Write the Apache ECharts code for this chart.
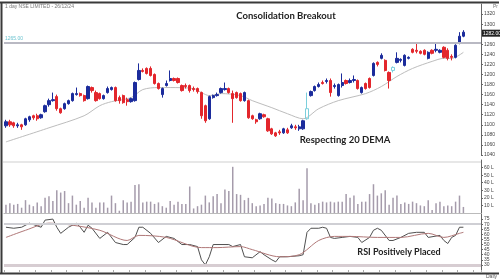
<!DOCTYPE html>
<html><head><meta charset="utf-8">
<script src="https://cdn.jsdelivr.net/npm/echarts@6/dist/echarts.min.js"></script>
<style>html,body{margin:0;padding:0;background:#fff}#c{width:500px;height:280px}</style>
</head><body><div id="c"></div>
<script>
// ---- data ----
const categories = [];
for (let i = 1; i <= 122; i++) categories.push(String(i));

const openP = [1098,1106,1104,1098,1100,1100,1110,1118,1118,1114,
1126,1140,1148,1156,1132,1132,1142,1148,1160,1162,
1158,1152,1174,1164,1162,1152,1164,1170,1174,1154,
1158,1150,1146,1148,1190,1208,1212,1212,1200,1182,
1160,1178,1188,1192,1192,1178,1178,1178,1172,1172,
1164,1138,1112,1154,1158,1164,1170,1172,1162,1164,
1162,1148,1148,1118,1110,1112,1120,1112,1092,1084,
1086,1084,1090,1094,1096,1092,1092,1112,1158,1168,
1176,1184,1186,1188,1176,1158,1178,1188,1184,1188,
1188,1164,1182,1192,1198,1224,1232,1228,1204,1208,
1224,1228,1218,1232,1250,1248,1246,1248,1232,1248,
1248,1244,1254,1248,1236,1234,1262,1276];
const closeP = [1106,1100,1098,1100,1096,1112,1116,1114,1112,1120,
1138,1148,1150,1132,1124,1142,1148,1162,1162,1158,
1148,1176,1168,1148,1152,1158,1172,1174,1148,1148,
1144,1146,1152,1184,1208,1206,1202,1198,1182,1172,
1172,1182,1192,1188,1184,1168,1176,1168,1170,1166,
1118,1108,1156,1158,1160,1172,1172,1164,1152,1154,
1148,1164,1114,1112,1106,1122,1116,1088,1082,1078,
1084,1092,1084,1098,1094,1096,1108,1132,1166,1176,
1180,1182,1188,1164,1178,1180,1184,1182,1188,1190,
1172,1174,1172,1174,1222,1220,1238,1208,1188,1214,
1232,1230,1238,1234,1244,1246,1242,1240,1244,1242,
1250,1248,1234,1232,1234,1258,1276,1284];
const highP = [1110,1110,1106,1104,1102,1114,1118,1120,1122,1122,
1140,1152,1164,1160,1134,1144,1150,1164,1174,1164,
1160,1178,1176,1168,1164,1160,1176,1176,1176,1158,
1160,1154,1154,1186,1222,1212,1214,1216,1202,1184,
1174,1188,1208,1194,1194,1180,1182,1180,1176,1174,
1166,1140,1158,1160,1164,1174,1184,1174,1168,1166,
1164,1166,1150,1120,1112,1124,1122,1114,1094,1086,
1090,1094,1094,1102,1100,1100,1110,1164,1168,1178,
1184,1188,1192,1192,1182,1182,1202,1190,1192,1198,
1190,1176,1184,1194,1224,1226,1242,1230,1206,1216,
1244,1232,1240,1236,1252,1262,1248,1250,1246,1250,
1262,1250,1256,1252,1240,1260,1284,1288];
const lowP = [1094,1096,1094,1094,1090,1098,1106,1110,1108,1112,
1124,1136,1146,1128,1122,1130,1140,1146,1158,1156,
1146,1150,1164,1146,1150,1150,1162,1168,1146,1142,
1142,1138,1144,1146,1188,1204,1200,1196,1180,1170,
1154,1176,1186,1186,1182,1166,1172,1164,1166,1162,
1112,1104,1110,1152,1156,1162,1168,1162,1104,1152,
1146,1146,1112,1110,1102,1110,1114,1086,1080,1076,
1080,1082,1082,1092,1090,1088,1090,1110,1156,1166,
1174,1180,1182,1156,1172,1156,1174,1180,1182,1184,
1170,1162,1170,1172,1196,1216,1230,1206,1172,1204,
1222,1224,1216,1230,1242,1242,1240,1238,1230,1240,
1244,1242,1232,1228,1228,1232,1260,1274];
// volume in lakhs
const volume = [11,13,11,12,7,17,11,9,14,9,
20,22,16,30,27,29,13,23,11,16,
7,20,14,7,14,14,7,23,13,3,
17,14,15,37,38,14,15,15,12,14,9,
7,16,11,15,12,12,35,6,9,11,23,14,22,25,13,31,29,61,25,24,
17,20,13,9,10,12,20,19,13,12,12,10,9,14,32,17,59,13,11,13,15,
14,15,14,15,15,25,20,23,12,15,15,25,38,23,26,30,11,20,23,12,
14,12,15,13,10,9,17,4,13,15,9,10,9,15,23,8];
// 20 DEMA read at selected candles
const emaIdx = [0,11,20,24,27,32,35,39,42,48,50,52,55,60,63,68,72,76,80,85,92,96,100,104,109,112,114,117];
const emaVal = [1066,1094,1118,1138,1146,1154,1170,1174,1174,1172,1164,1158,1162,1158,1148,1134,1122,1112,1132,1148,1162,1176,1196,1212,1226,1232,1232,1244];
// RSI read at selected candles
const rsiIdx = [0,2,4,6,9,10,12,13,14,16,18,19,20,21,22,24,26,28,30,31,33,34,35,37,39,41,43,45,47,49,50,51,52,53,57,58,60,61,63,65,66,68,69,70,72,75,76,77,78,80,81,82,83,84,86,88,90,91,93,94,95,96,98,99,101,103,105,107,108,111,112,113,114,115,116,117];
const rsiVal = [67,66,67,71,67,74,75,67,61,67,71,67,62,69,66,56,62,52,50,50,57,67,67,61,52,58,56,50,50,48,35,30,38,50,50,48,50,38,37,43,40,35,33,38,38,39,40,62,66,66,67,66,57,56,57,58,57,52,57,64,66,64,54,54,57,61,62,62,57,59,54,51,57,59,67,67];
const rsiAvgIdx = [0,5,11,17,24,31,34,41,50,54,60,63,70,75,80,84,88,95,101,108,112,116,117];
const rsiAvgVal = [57,64,71,69,64,54,59,57,47,47,48,45,38,40,54,58,58,57,57,61,57,61,62];
const resistance = 1264;
const lastPrice = 1282;
const priceTicks = {min:1040, max:1340, interval:20};

// ---- build ----
const N = openP.length;
function sparse(idx, val){ const a = new Array(N).fill(null); idx.forEach((k,j)=>{a[k]=val[j];}); return a; }
const hollow = {77:true, 99:true};
const candleData = openP.map((o,i)=>{
  const v = [o, closeP[i], lowP[i], highP[i]];
  if (hollow[i]) return {value:v, itemStyle:{color:'rgba(255,255,255,0)', borderColor:'#7ccfdc', color0:'rgba(255,255,255,0)', borderColor0:'#7ccfdc'}};
  return v;
});
const RED='#e3262c', BLUE='#1c2c9c';
const yCommon = {
  position:'right', splitLine:{show:false},
  axisLine:{show:true, lineStyle:{color:'#666', width:1}},
  axisTick:{show:true, length:2, lineStyle:{color:'#666'}},
  axisLabel:{fontSize:5, color:'#444', margin:3, fontFamily:'Liberation Sans', formatter:v=>String(v)}
};
const xCommon = (gi, extra) => Object.assign({
  type:'category', gridIndex:gi, data:categories, boundaryGap:true,
  axisLine:{show:false}, axisTick:{show:false}, axisLabel:{show:false}, splitLine:{show:false}
}, extra||{});

const chart = echarts.init(document.getElementById('c'), null, {renderer:'canvas'});
chart.setOption({
  animation:false,
  backgroundColor:'#fff',
  grid:[
    {left:4, right:19, top:4, height:151},
    {left:4, right:19, top:160, height:53},
    {left:4, right:19, top:214, height:56}
  ],
  xAxis:[
    xCommon(0),
    xCommon(1, {axisLine:{show:true, lineStyle:{color:'#bbb'}}}),
    xCommon(2, {axisTick:{show:true, interval:3, length:2, lineStyle:{color:'#aaa'}}})
  ],
  yAxis:[
    Object.assign({}, yCommon, {gridIndex:0, type:'value', min:priceTicks.min, max:priceTicks.max, interval:priceTicks.interval,
      axisLabel:Object.assign({}, yCommon.axisLabel, {showMaxLabel:false})}),
    Object.assign({}, yCommon, {gridIndex:1, type:'value', min:0, max:70, interval:10,
      axisLabel:Object.assign({}, yCommon.axisLabel, {showMinLabel:false, showMaxLabel:false, formatter:v=>v+' L'})}),
    Object.assign({}, yCommon, {gridIndex:2, type:'value', min:25, max:80, interval:5,
      axisLabel:Object.assign({}, yCommon.axisLabel, {showMinLabel:false, showMaxLabel:false})})
  ],
  series:[
    {type:'candlestick', xAxisIndex:0, yAxisIndex:0, data:candleData, barWidth:2.8,
     itemStyle:{color:BLUE, color0:RED, borderColor:BLUE, borderColor0:RED, borderWidth:1},
     markLine:{silent:true, symbol:'none', animation:false,
       data:[
         {yAxis:resistance, lineStyle:{color:'#b9b9c3', width:2, type:'solid'},
          label:{show:true, position:'insideStartTop', formatter:'1265.00', color:'#6cc3cf', fontSize:5, distance:1}},
         {yAxis:lastPrice, lineStyle:{color:'rgba(0,0,0,0)', width:0.1},
          label:{show:true, position:'end', formatter:lastPrice.toFixed(2), color:'#fff', backgroundColor:'#222', fontSize:5, padding:[1,1], distance:1}}
       ]}
    },
    {type:'line', xAxisIndex:0, yAxisIndex:0, data:sparse(emaIdx, emaVal), connectNulls:true, symbol:'none', smooth:0.3,
     lineStyle:{color:'#bdbdbd', width:1}, z:1},
    {type:'bar', xAxisIndex:1, yAxisIndex:1, data:volume, barWidth:1.5, itemStyle:{color:'#a59bab'}},
    {type:'line', xAxisIndex:2, yAxisIndex:2, data:sparse(rsiIdx, rsiVal), connectNulls:true, symbol:'none',
     lineStyle:{color:'#505050', width:1},
     markLine:{silent:true, symbol:'none', label:{show:false},
       data:[{yAxis:70, lineStyle:{color:'#cfcfd4', width:2, type:'solid'}},
             {yAxis:30, lineStyle:{color:'#d7cdd2', width:3, type:'solid'}}]}},
    {type:'line', xAxisIndex:2, yAxisIndex:2, data:sparse(rsiAvgIdx, rsiAvgVal), connectNulls:true, symbol:'none', smooth:0.3,
     lineStyle:{color:'#b07878', width:1}}
  ],
  graphic:[
    {type:'line', shape:{x1:0, y1:2.5, x2:499, y2:2.5}, style:{stroke:'#3a3a3a', lineWidth:2}},
    {type:'line', shape:{x1:1.5, y1:2, x2:1.5, y2:274}, style:{stroke:'#3a3a3a', lineWidth:2}},
    {type:'line', shape:{x1:0, y1:273.5, x2:499, y2:273.5}, style:{stroke:'#3a3a3a', lineWidth:2}},
    {type:'line', shape:{x1:3, y1:162, x2:481, y2:162}, style:{stroke:'#cfcfcf', lineWidth:1}},
    {type:'text', left:5, top:4, style:{text:'1 day NSE LIMITED - 26/12/24', fontSize:5, fill:'#777', fontFamily:'Liberation Sans'}},
    {type:'text', left:493, top:4, style:{text:'Pr', fontSize:5, fill:'#777', fontFamily:'Liberation Sans'}},
    {type:'text', left:486, top:274, style:{text:'Daily', fontSize:5, fill:'#555', fontFamily:'Liberation Sans'}},
    {type:'text', x:286, y:16, style:{text:'Consolidation Breakout', fontSize:9.5, fontWeight:'bold', fill:'#222', fontFamily:'Lato', align:'center', verticalAlign:'middle'}},
    {type:'text', x:345, y:140, style:{text:'Respecting 20 DEMA', fontSize:9.5, fontWeight:'bold', fill:'#222', fontFamily:'Lato', align:'center', verticalAlign:'middle'}},
    {type:'text', x:399, y:252, style:{text:'RSI Positively Placed', fontSize:9, fontWeight:'bold', fill:'#222', fontFamily:'Lato', align:'center', verticalAlign:'middle'}}
  ]
});
</script></body></html>
